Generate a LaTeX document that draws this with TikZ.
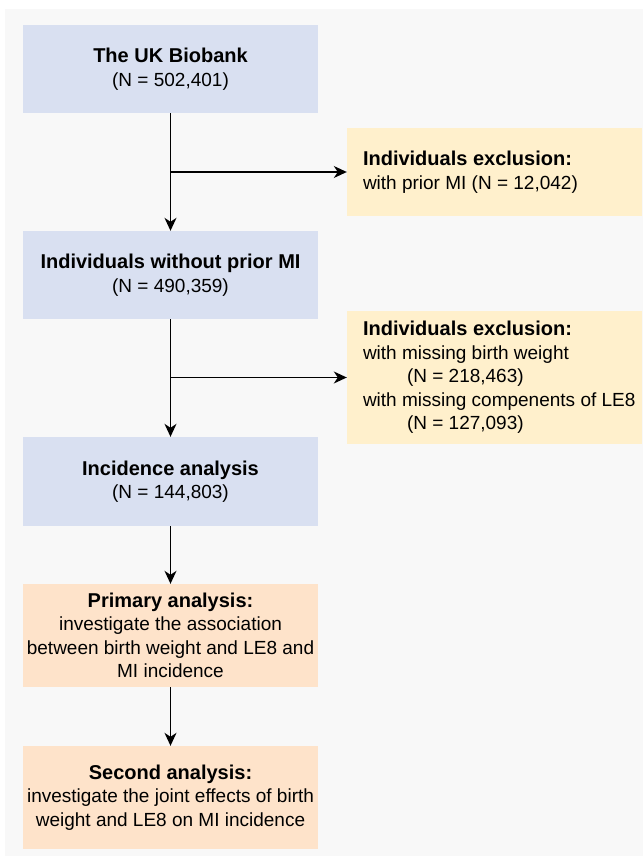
\documentclass[tikz,border=0pt]{standalone}
\usepackage{fontspec}
\setmainfont{Liberation Sans}
\usetikzlibrary{arrows.meta}
\definecolor{bgray}{HTML}{F8F8F8}
\definecolor{bblue}{HTML}{D9E0F1}
\definecolor{byellow}{HTML}{FFF0CC}
\definecolor{borange}{HTML}{FEE3CA}
\begin{document}
\begin{tikzpicture}[x=1pt,y=-1pt,
  basebox/.style={draw=none, inner sep=0pt, minimum width=295pt, font=\fontsize{19}{23.5}\selectfont},
  mainbox/.style={basebox, fill=bblue, align=center},
  anabox/.style={basebox, fill=borange, align=center},
  exclbox/.style={basebox, fill=byellow},
  excltext/.style={anchor=west, inner sep=0pt, align=left, font=\fontsize{19}{23.5}\selectfont},
  arr/.style={line width=1.3pt, -{Stealth[length=13pt,width=12pt,inset=4pt]}},
  hd/.style={}]
\fill[white] (0,0) rectangle (643,858);
\useasboundingbox (0,0) rectangle (643,858);
\fill[bgray] (5,9) rectangle (643,856);

\node[mainbox, minimum height=88pt] (b1) at (170.5,69)
  {{\fontsize{20}{23.5}\selectfont\bfseries The UK Biobank}\\(N = 502,401)};
\node[mainbox, minimum height=88pt] (b2) at (170.5,275)
  {{\fontsize{20}{23.5}\selectfont\bfseries Individuals without prior MI}\\(N = 490,359)};
\node[mainbox, minimum height=89pt] (b3) at (170.5,481.5)
  {{\fontsize{20}{23.5}\selectfont\bfseries Incidence analysis}\\(N = 144,803)};
\node[anabox, minimum height=103pt] (b4) at (170.5,635.5)
  {{\fontsize{20}{23.5}\selectfont\bfseries Primary analysis:}\\investigate the association\\between birth weight and LE8 and\\MI incidence};
\node[anabox, minimum height=103pt] (b5) at (170.5,797.5)
  {{\fontsize{20}{23.5}\selectfont\bfseries Second analysis:}\\investigate the joint effects of birth\\weight and LE8 on MI incidence};

\node[exclbox, minimum height=88pt] (e1) at (494.5,172) {};
\node[excltext] (e1t) at ([xshift=16pt]e1.west)
  {{\fontsize{20}{23.5}\selectfont\bfseries Individuals exclusion:}\\with prior MI (N = 12,042)};
\node[exclbox, minimum height=133pt] (e2) at (494.5,377.5) {};
\node[excltext] (e2t) at ([xshift=16pt]e2.west)
  {{\fontsize{20}{23.5}\selectfont\bfseries Individuals exclusion:}\\with missing birth weight\\\hspace*{44pt}(N = 218,463)\\with missing compenents of LE8\\\hspace*{44pt}(N = 127,093)};

\coordinate (j1) at (b1.south |- e1.west);
\coordinate (j2) at (b2.south |- e2.west);
\draw[arr] (b1.south) -- (b2.north);
\draw[arr] (j1) -- (e1.west);
\draw[arr] (b2.south) -- (b3.north);
\draw[arr] (j2) -- (e2.west);
\draw[arr] (b3.south) -- (b4.north);
\draw[arr] (b4.south) -- (b5.north);
\end{tikzpicture}
\end{document}
